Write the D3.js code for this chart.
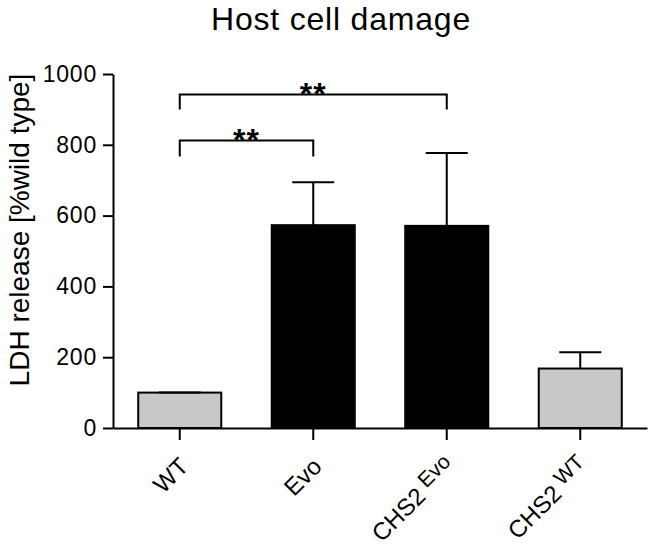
<!DOCTYPE html>
<html><head><meta charset="utf-8">
<script src="https://cdn.jsdelivr.net/npm/d3@7"></script>
<style>body{margin:0;background:#fff}svg{display:block}text{font-family:"Liberation Sans",Arial,sans-serif;fill:#000}</style>
</head><body><svg id="c" width="654" height="555"></svg>
<script>
const categories = ["WT", "Evo", "CHS2 Evo", "CHS2 WT"];
const labelMain = ["WT", "Evo", "CHS2", "CHS2"];
const labelSup = ["", "", "Evo", "WT"];
const means = [100, 573, 571, 168];
const errUpper = [100, 694, 777, 214];
const fills = ["#c8c8c8", "#000000", "#000000", "#c8c8c8"];
const yTicks = [0, 200, 400, 600, 800, 1000];
const brackets = [
  {from: "WT", to: "CHS2 Evo", level: 942, leg: 900, label: "**"},
  {from: "WT", to: "Evo", level: 812, leg: 767, label: "**"}
];

const svg = d3.select("#c");
const x0 = 113, x1 = 647, yBase = 428, yTop = 74;
const x = d3.scaleBand().domain(categories).range([x0, x1]).paddingInner(0.378).paddingOuter(0.189);
const y = d3.scaleLinear().domain([0, 1000]).range([yBase, yTop]);
const cx = c => x(c) + x.bandwidth() / 2;

// title
svg.append("text").attr("x", 341).attr("y", 30).attr("text-anchor", "middle")
  .style("font-size", "32px").style("letter-spacing", "0.8px").text("Host cell damage");

// y label
svg.append("text").attr("transform", "translate(29,230) rotate(-90)").attr("text-anchor", "middle")
  .style("font-size", "28px").text("LDH release [%wild type]");

// bars
svg.selectAll("rect.bar").data(categories).join("rect")
  .attr("x", d => x(d)).attr("width", x.bandwidth())
  .attr("y", (d, i) => y(means[i])).attr("height", (d, i) => y(0) - y(means[i]))
  .attr("fill", (d, i) => fills[i]).attr("stroke", "#000").attr("stroke-width", 2);

// error bars
const eg = svg.append("g").attr("stroke", "#000").attr("stroke-width", 2);
categories.forEach((c, i) => {
  eg.append("line").attr("x1", cx(c)).attr("x2", cx(c)).attr("y1", y(means[i])).attr("y2", y(errUpper[i]));
  eg.append("line").attr("x1", cx(c) - 21).attr("x2", cx(c) + 21).attr("y1", y(errUpper[i])).attr("y2", y(errUpper[i]));
});

// y axis
const ya = svg.append("g").attr("transform", `translate(${x0},0)`)
  .call(d3.axisLeft(y).tickValues(yTicks).tickFormat(d3.format("d")).tickSize(10).tickPadding(6).tickSizeOuter(0));
ya.select(".domain").attr("stroke-width", 2);
ya.selectAll(".tick line").attr("stroke-width", 2);
ya.selectAll(".tick text").style("font-size", "23px").style("letter-spacing", "0.8px")
  .style("font-family", "Liberation Sans, Arial, sans-serif");

// x axis
const xa = svg.append("g").attr("transform", `translate(0,${yBase})`)
  .call(d3.axisBottom(x).tickSize(12).tickSizeOuter(0).tickFormat(""));
xa.select(".domain").attr("stroke-width", 2);
xa.selectAll(".tick line").attr("stroke-width", 2);
xa.selectAll(".tick text").remove();

// x labels
categories.forEach((c, i) => {
  const t = svg.append("text").attr("text-anchor", "end")
    .attr("transform", `translate(${cx(c) + 10},${yBase + 40}) rotate(-45)`)
    .style("font-size", "24px");
  t.append("tspan").text(labelMain[i]);
  if (labelSup[i]) t.append("tspan").attr("dx", 6).attr("dy", -7).style("font-size", "21px").text(labelSup[i]);
});

// significance brackets
const bg = svg.append("g");
brackets.forEach(b => {
  const xa_ = cx(b.from), xb_ = cx(b.to);
  bg.append("path").attr("fill", "none").attr("stroke", "#000").attr("stroke-width", 2)
    .attr("d", `M${xa_},${y(b.leg)}V${y(b.level)}H${xb_}V${y(b.leg)}`);
  bg.append("text").attr("x", (xa_ + xb_) / 2).attr("y", y(b.level) + 10).attr("text-anchor", "middle")
    .style("font-size", "32px").style("font-weight", "bold").style("letter-spacing", "1px").text(b.label);
});
</script></body></html>
